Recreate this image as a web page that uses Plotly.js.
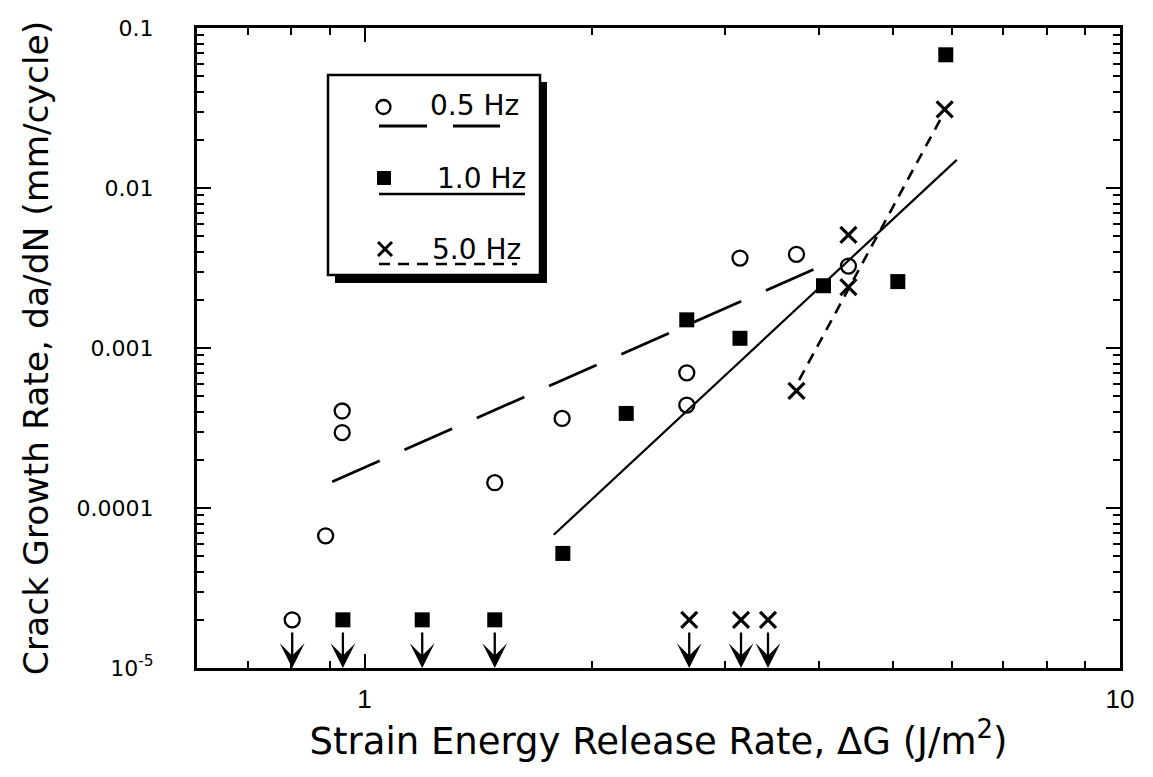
<!DOCTYPE html>
<html><head><meta charset="utf-8">
<script src="https://cdn.plot.ly/plotly-3.0.1.min.js"></script>
<style>html,body{margin:0;padding:0;background:#fff;}</style>
</head><body>
<div id="chart" style="width:1153px;height:777px;"></div>
<script>
// ---- data ----
const g05 = [0.888, 0.934, 0.934, 1.487, 1.826, 2.67, 2.67, 3.14, 3.73, 4.37];
const r05 = [6.7e-5, 2.96e-4, 4.04e-4, 1.44e-4, 3.63e-4, 4.4e-4, 7.0e-4, 3.65e-3, 3.85e-3, 3.25e-3];
const g10 = [1.83, 2.22, 2.67, 3.14, 4.05, 5.08, 5.88];
const r10 = [5.2e-5, 3.9e-4, 1.5e-3, 1.15e-3, 2.45e-3, 2.6e-3, 0.068];
const g50 = [3.73, 4.37, 4.37, 5.86];
const r50 = [5.4e-4, 2.4e-3, 5.1e-3, 0.031];
// run-outs (no measurable growth) shown at 2e-5 with downward arrows
const runoutLevel = 2e-5;
const g05Run = [0.802];
const g10Run = [0.936, 1.192, 1.487];
const g50Run = [2.69, 3.15, 3.42];
// power-law fit lines (end points)
const fit05G = [0.906, 4.05], fit05R = [1.46e-4, 3.3e-3];
const fit10G = [1.78, 6.08],  fit10R = [6.8e-5, 0.015];
const fit50G = [3.76, 5.8],   fit50R = [6.3e-4, 0.0275];
// axis ticks
const xTickVals = [1, 10], xTickText = ['1', '10'];
const xMinor = [0.6, 0.7, 0.8, 0.9, 2, 3, 4, 5, 6, 7, 8, 9];
const yTickVals = [1e-5, 1e-4, 1e-3, 1e-2, 0.1];
const yTickText = ['10<sup>-5</sup>', '0.0001', '0.001', '0.01', '0.1'];
const yMinor = [];
[1e-5, 1e-4, 1e-3, 1e-2].forEach(d => { for (let k = 2; k <= 9; k++) yMinor.push(d * k); });
const legendLabels = ['0.5 Hz', '1.0 Hz', '5.0 Hz'];
const xTitle = 'Strain Energy Release Rate, \u0394G (J/m<sup>2</sup>)';
const yTitle = 'Crack Growth Rate, da/dN (mm/cycle)';
const yBottom = 1e-5;

// ---- styles ----
const BLK = '#000';
const circ = {symbol: 'circle-open', size: 15, color: BLK, line: {width: 2.3, color: BLK}};
const sq = {symbol: 'square', size: 15, color: BLK};
const xx = {symbol: 'x-thin-open', size: 16, color: BLK, line: {width: 3.2, color: BLK}};
const rep = (a) => a.map(() => runoutLevel);

const traces = [
  {x: fit05G, y: fit05R, mode: 'lines', line: {color: BLK, width: 2.8, dash: '52px,27px'}},
  {x: fit10G, y: fit10R, mode: 'lines', line: {color: BLK, width: 2.2}},
  {x: fit50G, y: fit50R, mode: 'lines', line: {color: BLK, width: 2.6, dash: '11px,8px'}},
  {x: g05, y: r05, mode: 'markers', marker: circ},
  {x: g10, y: r10, mode: 'markers', marker: sq},
  {x: g50, y: r50, mode: 'markers', marker: xx},
  {x: g05Run, y: rep(g05Run), mode: 'markers', marker: circ},
  {x: g10Run, y: rep(g10Run), mode: 'markers', marker: sq},
  {x: g50Run, y: rep(g50Run), mode: 'markers', marker: xx}
];

const shapes = [];
const annotations = [];

// ---- arrows below run-out points: tip on the x axis, tail just under the marker ----
[...g05Run, ...g10Run, ...g50Run].forEach(g => {
  annotations.push({x: Math.log10(g), y: Math.log10(yBottom), xref: 'x', yref: 'y',
    ax: 0, ay: -37, axref: 'pixel', ayref: 'pixel', showarrow: true,
    arrowhead: 3, arrowsize: 1.8, arrowwidth: 2.3, arrowcolor: BLK, text: '', standoff: 0});
});

// ---- hand-made legend box (pixel -> paper) ----
const L = 197, T = 28, W = 923, H = 640;
const px = v => (v - L) / W;
const py = v => (T + H - v) / H;
const rect = (x0, y0, x1, y1, extra) => Object.assign({type: 'rect', xref: 'paper', yref: 'paper',
  x0: px(x0), x1: px(x1), y0: py(y1), y1: py(y0)}, extra);
const seg = (x0, y0, x1, y1, w, dash) => ({type: 'line', xref: 'paper', yref: 'paper',
  x0: px(x0), x1: px(x1), y0: py(y0), y1: py(y1), line: {color: BLK, width: w, dash: dash || 'solid'}});
shapes.push(rect(335, 82, 547, 283, {fillcolor: BLK, line: {width: 0}}));
shapes.push(rect(328, 75, 540, 275, {fillcolor: '#fff', line: {color: BLK, width: 2.5}}));
// row 1
shapes.push({type: 'circle', xref: 'paper', yref: 'paper', x0: px(376.5), x1: px(390.5), y0: py(114), y1: py(100),
  line: {color: BLK, width: 2.3}});
shapes.push(seg(379, 126, 427, 126, 2.8));
shapes.push(seg(453, 126, 500, 126, 2.8));
// row 2
shapes.push(rect(377, 171, 391, 185, {fillcolor: BLK, line: {width: 0}}));
shapes.push(seg(379, 194, 525, 194, 2.4));
// row 3
shapes.push(seg(378, 242, 392, 256, 3));
shapes.push(seg(378, 256, 392, 242, 3));
shapes.push(seg(379, 264, 517, 264, 2.6, '11px,8px'));
const legY = [106, 178, 249], legX = [428, 435, 430];
legendLabels.forEach((t, i) => annotations.push({xref: 'paper', yref: 'paper', x: px(legX[i]), y: py(legY[i]),
  xanchor: 'left', yanchor: 'middle', showarrow: false, text: t,
  font: {family: 'DejaVu Sans', size: 28, color: BLK}}));

const axisCommon = {type: 'log', showline: true, linewidth: 3, linecolor: BLK, mirror: 'allticks',
  ticks: 'inside', ticklen: 14, tickwidth: 2, tickcolor: BLK, showgrid: false, zeroline: false,
  tickmode: 'array'};

const layout = {
  width: 1153, height: 777,
  margin: {l: L, r: 1153 - L - W, t: T, b: 777 - T - H, pad: 0},
  paper_bgcolor: '#fff', plot_bgcolor: '#fff',
  showlegend: false,
  xaxis: Object.assign({}, axisCommon, {
    range: [Math.log10(0.6), 1], tickvals: xTickVals, ticktext: xTickText,
    tickfont: {family: 'Liberation Sans', size: 26, color: BLK}, ticklabelstandoff: 6,
    minor: {tickmode: 'array', tickvals: xMinor, ticks: 'inside', ticklen: 7, tickwidth: 2, tickcolor: BLK, showgrid: false},
    title: {text: xTitle, font: {family: 'DejaVu Sans', size: 37, color: BLK}, standoff: 10}
  }),
  yaxis: Object.assign({}, axisCommon, {
    range: [-5, -1], tickvals: yTickVals, ticktext: yTickText,
    tickfont: {family: 'DejaVu Sans', size: 22, color: BLK}, ticklabelstandoff: 36,
    minor: {tickmode: 'array', tickvals: yMinor, ticks: 'inside', ticklen: 7, tickwidth: 2, tickcolor: BLK, showgrid: false},
    title: {text: yTitle, font: {family: 'DejaVu Sans', size: 34.5, color: BLK}, standoff: 18}
  }),
  shapes: shapes,
  annotations: annotations
};

Plotly.newPlot('chart', traces, layout, {displayModeBar: false, staticPlot: true});
</script>
</body></html>
